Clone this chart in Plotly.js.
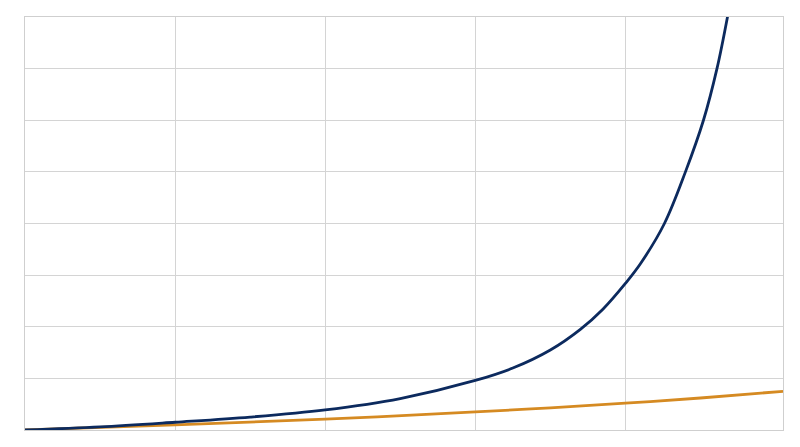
<!DOCTYPE html>
<html>
<head>
<meta charset="utf-8">
<script src="https://cdn.plot.ly/plotly-3.0.1.min.js"></script>
<style>
  html, body { margin: 0; padding: 0; background: #fff; }
  #plot { width: 800px; height: 447px; }
</style>
</head>
<body>
<div id="plot"></div>
<script>
// values (grid units)
const blueX = [0, 0.5, 1, 1.5, 2, 2.5, 3, 3.25, 3.5, 3.7, 3.85, 4, 4.1, 4.26, 4.4, 4.52, 4.61, 4.68, 4.74];
const blueY = [0, 0.06, 0.15, 0.25, 0.39, 0.61, 0.96, 1.2, 1.55, 1.95, 2.34, 2.84, 3.22, 4.0, 5.0, 6.0, 7.0, 8.0, 9.0];

const orangeX = [0, 1, 2, 3, 3.5, 4, 4.5, 5.05];
const orangeY = [0, 0.1, 0.21, 0.35, 0.43, 0.52, 0.62, 0.75];

const gridX = [0, 1, 2, 3, 4];
const gridY = [0, 1, 2, 3, 4, 5, 6, 7, 8];
const xRange = [0, 5.05];
const yRange = [0, 8];

var blueTrace = {
    type: "scatter",
    mode: "lines",
    x: blueX,
    y: blueY,
    line: {color: "#0c2a5e", width: 2.8, shape: "spline", smoothing: 1},
    hoverinfo: "skip"
};

var orangeTrace = {
    type: "scatter",
    mode: "lines",
    x: orangeX,
    y: orangeY,
    line: {color: "#d58a22", width: 2.8, shape: "spline", smoothing: 1},
    hoverinfo: "skip"
};

var axisStyle = {
    showticklabels: false,
    ticks: "",
    tickmode: "array",
    showgrid: true,
    gridcolor: "#d4d4d4",
    gridwidth: 1,
    zeroline: false,
    showline: true,
    linecolor: "#cfcfcf",
    linewidth: 1,
    mirror: true,
    fixedrange: true
};

var layout = {
    width: 800,
    height: 447,
    margin: {l: 25, r: 17, t: 17, b: 17},
    paper_bgcolor: "#ffffff",
    plot_bgcolor: "#ffffff",
    showlegend: false,
    xaxis: Object.assign({}, axisStyle, {range: xRange, tickvals: gridX}),
    yaxis: Object.assign({}, axisStyle, {range: yRange, tickvals: gridY})
};

Plotly.newPlot("plot", [orangeTrace, blueTrace], layout, {displayModeBar: false, staticPlot: true});
</script>
</body>
</html>
